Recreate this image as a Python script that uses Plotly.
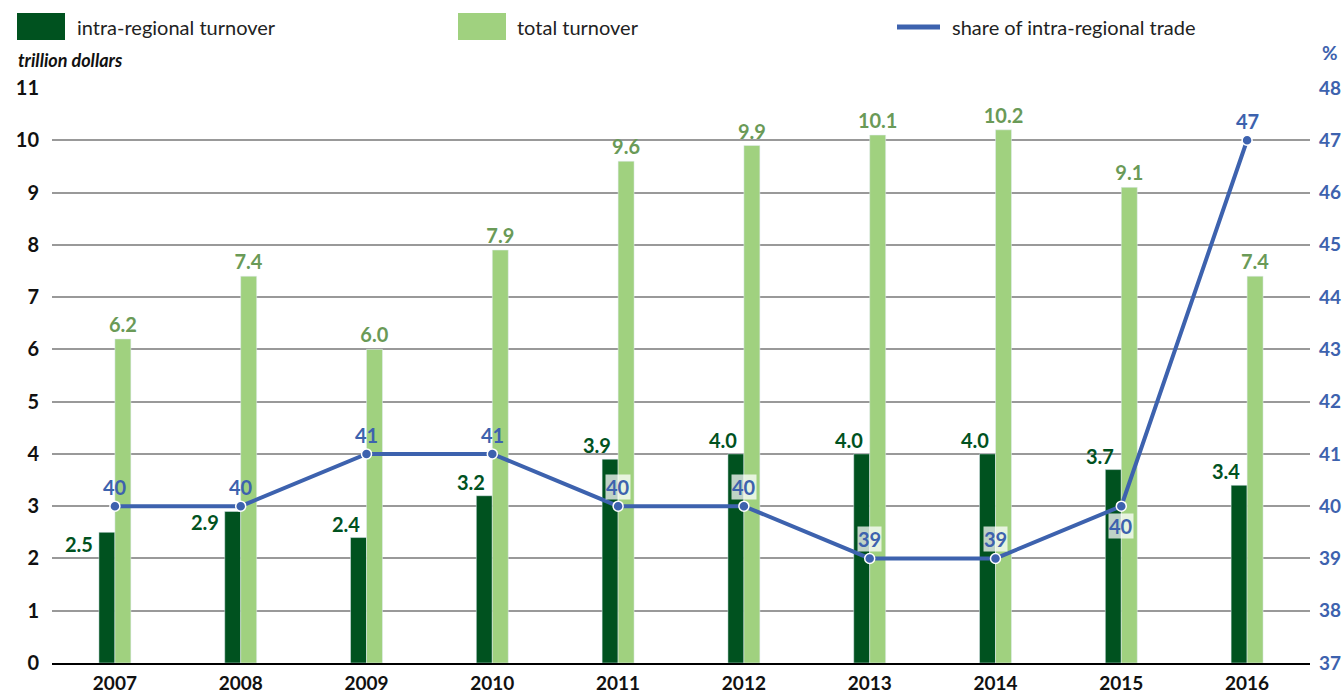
import plotly.graph_objects as go

years = ["2007", "2008", "2009", "2010", "2011", "2012", "2013", "2014", "2015", "2016"]
intra = [2.5, 2.9, 2.4, 3.2, 3.9, 4.0, 4.0, 4.0, 3.7, 3.4]
total = [6.2, 7.4, 6.0, 7.9, 9.6, 9.9, 10.1, 10.2, 9.1, 7.4]
share = [40, 40, 41, 41, 40, 40, 39, 39, 40, 47]
left_ticks = list(range(0, 12))
right_ticks = list(range(37, 49))

# label styling (offsets in px)
intra_xshift = [-20, -20, -5, -5, -5, -5, -5, -5, -5, -5]
intra_yshift = [-26, -25, 0, 0, 0, 0, 0, 0, 0, 0]
share_below = [False, False, False, False, False, False, False, False, True, False]
share_bg = [False, False, False, False, True, True, True, True, True, False]

DARK = "#00521f"
LIGHT = "#a0d17f"
LIGHT_TXT = "#6a9a57"
BLUE = "#3d62ae"
GRID = "#999999"
FONT = "Lato"

W, H = 1344, 694
ML, MR, MT, MB = 52, 34, 88, 31
PW, PH = W - ML - MR, H - MT - MB


def px(x):
    return (x - ML) / PW


def py(y):
    return (H - MB - y) / PH


fig = go.Figure()
fig.add_trace(go.Bar(x=years, y=intra, marker_color=DARK, name="intra-regional turnover",
                     showlegend=False, hoverinfo="skip"))
fig.add_trace(go.Bar(x=years, y=total, marker_color=LIGHT, name="total turnover",
                     text=[f"<b>{v:.1f}</b>" for v in total], textposition="outside",
                     textfont=dict(color=LIGHT_TXT, size=20, family=FONT),
                     constraintext="none", cliponaxis=False, showlegend=False,
                     hoverinfo="skip"))
fig.add_trace(go.Scatter(x=years, y=share, yaxis="y2", mode="lines+markers",
                         line=dict(color=BLUE, width=4),
                         marker=dict(size=10, color=BLUE, line=dict(color="white", width=1.5)),
                         name="share of intra-regional trade", showlegend=False,
                         cliponaxis=False, hoverinfo="skip"))

ann = []
for i, y in enumerate(years):
    ann.append(dict(x=i, y=intra[i], xref="x", yref="y", text=f"<b>{intra[i]:.1f}</b>",
                    showarrow=False, xanchor="right", yanchor="bottom",
                    xshift=intra_xshift[i], yshift=intra_yshift[i],
                    font=dict(color=DARK, size=20, family=FONT)))
    below = share_below[i]
    ann.append(dict(x=i, y=share[i], xref="x", yref="y2", text=f"<b>{share[i]}</b>",
                    showarrow=False, xanchor="center",
                    yanchor="top" if below else "bottom",
                    yshift=-7 if below else 6,
                    bgcolor="rgba(255,255,255,0.75)" if share_bg[i] else None,
                    borderpad=0,
                    font=dict(color=BLUE, size=20, family=FONT)))

# axis titles
ann.append(dict(x=px(16), y=py(60), xref="paper", yref="paper", text="<b><i>trillion dollars</i></b>",
                showarrow=False, xanchor="left", yanchor="middle",
                font=dict(color="#111", size=18, family=FONT)))
ann.append(dict(x=px(1330), y=py(53), xref="paper", yref="paper", text="<b>%</b>",
                showarrow=False, xanchor="center", yanchor="middle",
                font=dict(color=BLUE, size=19, family=FONT)))

# custom legend
shapes = []
legend_items = [
    (17, 65, "box", DARK, "intra-regional turnover", 75),
    (458, 506, "box", LIGHT, "total turnover", 515),
    (897, 940, "line", BLUE, "share of intra-regional trade", 950),
]
for x0, x1, kind, col, label, tx in legend_items:
    if kind == "box":
        shapes.append(dict(type="rect", xref="paper", yref="paper", x0=px(x0), x1=px(x1),
                           y0=py(40), y1=py(13), fillcolor=col, line=dict(width=0)))
    else:
        shapes.append(dict(type="line", xref="paper", yref="paper", x0=px(x0), x1=px(x1),
                           y0=py(27), y1=py(27), line=dict(color=col, width=5)))
    ann.append(dict(x=px(tx), y=py(27), xref="paper", yref="paper", text=label,
                    showarrow=False, xanchor="left", yanchor="middle",
                    font=dict(color="#222", size=20, family=FONT)))

fig.update_layout(
    width=W, height=H,
    margin=dict(l=ML, r=MR, t=MT, b=MB, autoexpand=False),
    paper_bgcolor="white", plot_bgcolor="white",
    barmode="group", bargap=0.746, bargroupgap=0,
    font=dict(family=FONT),
    xaxis=dict(type="category", range=[-0.5, len(years) - 0.5], autorange=False,
               automargin=False,
               showline=True, linecolor="black", linewidth=2,
               tickvals=years, ticktext=[f"<b>{y}</b>" for y in years],
               ticks="", tickfont=dict(size=19, color="#111", family=FONT),
               ticklabelstandoff=2,
               showgrid=False, zeroline=False),
    yaxis=dict(range=[0, 11], autorange=False, automargin=False, tickvals=left_ticks,
               ticktext=[f"<b>{t}</b>" for t in left_ticks],
               showgrid=True, gridcolor=GRID, gridwidth=2, zeroline=False, showline=False,
               ticks="", tickfont=dict(size=20, color="#111", family=FONT),
               ticklabelstandoff=12),
    yaxis2=dict(range=[37, 48], autorange=False, automargin=False, tickvals=right_ticks,
                ticktext=[f"<b>{t}</b>" for t in right_ticks],
                overlaying="y", side="right", showgrid=False, zeroline=False, showline=False,
                ticks="", tickfont=dict(size=19, color=BLUE, family=FONT),
                ticklabelstandoff=8),
    annotations=ann, shapes=shapes,
)

fig.write_html("out.html")
